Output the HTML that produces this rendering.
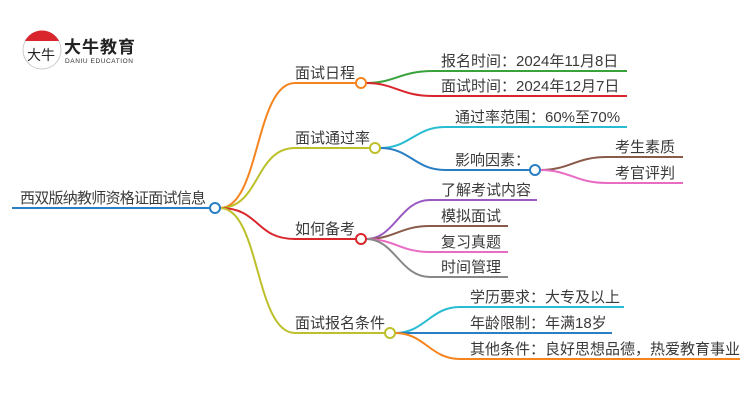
<!DOCTYPE html>
<html><head><meta charset="utf-8"><style>
body{margin:0;background:#fff;}
svg text{font-family:"Liberation Sans","Noto Sans CJK SC",sans-serif;font-size:15px;fill:#3a3a3a;}
</style></head><body>
<svg width="750" height="410" viewBox="0 0 750 410" xmlns="http://www.w3.org/2000/svg">
<!-- logo -->
<circle cx="42" cy="50" r="19" fill="#fff" stroke="#ccc" stroke-width="1"/>
<path d="M25 41 A19 19 0 0 1 59 41 Z" fill="#d9262c"/>
<text x="27" y="60" style="font-size:14px;fill:#222">大牛</text>
<text x="64" y="53" style="font-size:17px;font-weight:bold;fill:#222" textLength="71">大牛教育</text>
<text x="65" y="63" style="font-size:6.5px;fill:#333" textLength="68">DANIU EDUCATION</text>
<g fill="none" stroke-width="2">
<line x1="12" y1="208" x2="210" y2="208" stroke="#2a7ec4"/>
<path d="M220 208 C260 208 255 83 295 83 L356 83" stroke="#f5841f"/>
<path d="M220 208 C260 208 255 148 295 148 L370 148" stroke="#bcc02a"/>
<path d="M220 208 C260 208 255 239 295 239 L356 239" stroke="#d9262c"/>
<path d="M220 208 C260 208 255 333 295 333 L385 333" stroke="#bcc02a"/>
<path d="M366 83 C395 83 400 71 433 71 L627 71" stroke="#3aa23a"/>
<path d="M366 83 C395 83 400 96 433 96 L627 96" stroke="#d9262c"/>
<path d="M380 148 C410 148 415 127 445 127 L627 127" stroke="#27bcd1"/>
<path d="M380 148 C410 148 415 170 445 170 L530 170" stroke="#2a7ec4"/>
<path d="M540 170 C570 170 575 157 607 157 L683 157" stroke="#8a5a4a"/>
<path d="M540 170 C570 170 575 183 607 183 L683 183" stroke="#e86cc4"/>
<path d="M366 239 C395 239 400 200 430 200 L537 200" stroke="#9b59c4"/>
<path d="M366 239 C395 239 400 226 430 226 L508 226" stroke="#8a5a4a"/>
<path d="M366 239 C395 239 400 252 430 252 L508 252" stroke="#e86cc4"/>
<path d="M366 239 C395 239 400 277 430 277 L508 277" stroke="#888"/>
<path d="M395 333 C425 333 430 307 460 307 L624 307" stroke="#27bcd1"/>
<path d="M395 333 L612 333" stroke="#2a7ec4"/>
<path d="M395 333 C425 333 430 359 460 359 L740 359" stroke="#f5841f"/>
</g>
<g fill="#fff" stroke-width="2">
<circle cx="215" cy="208" r="5" stroke="#2a7ec4"/>
<circle cx="361" cy="83" r="5" stroke="#f5841f"/>
<circle cx="375" cy="148" r="5" stroke="#bcc02a"/>
<circle cx="535" cy="170" r="5" stroke="#2a7ec4"/>
<circle cx="361" cy="239" r="5" stroke="#d9262c"/>
<circle cx="390" cy="333" r="5" stroke="#bcc02a"/>
</g>
<text x="20" y="203" textLength="186">西双版纳教师资格证面试信息</text>
<text x="295" y="78">面试日程</text>
<text x="295" y="143">面试通过率</text>
<text x="295" y="234">如何备考</text>
<text x="295" y="328">面试报名条件</text>
<text x="441" y="66">报名时间：2024年11月8日</text>
<text x="441" y="91">面试时间：2024年12月7日</text>
<text x="455" y="122">通过率范围：60%至70%</text>
<text x="455" y="165">影响因素：</text>
<text x="615" y="152">考生素质</text>
<text x="615" y="178">考官评判</text>
<text x="441" y="195">了解考试内容</text>
<text x="441" y="221">模拟面试</text>
<text x="441" y="247">复习真题</text>
<text x="441" y="272">时间管理</text>
<text x="470" y="302">学历要求：大专及以上</text>
<text x="470" y="328">年龄限制：年满18岁</text>
<text x="470" y="354">其他条件：良好思想品德，热爱教育事业</text>
</svg>
</body></html>
